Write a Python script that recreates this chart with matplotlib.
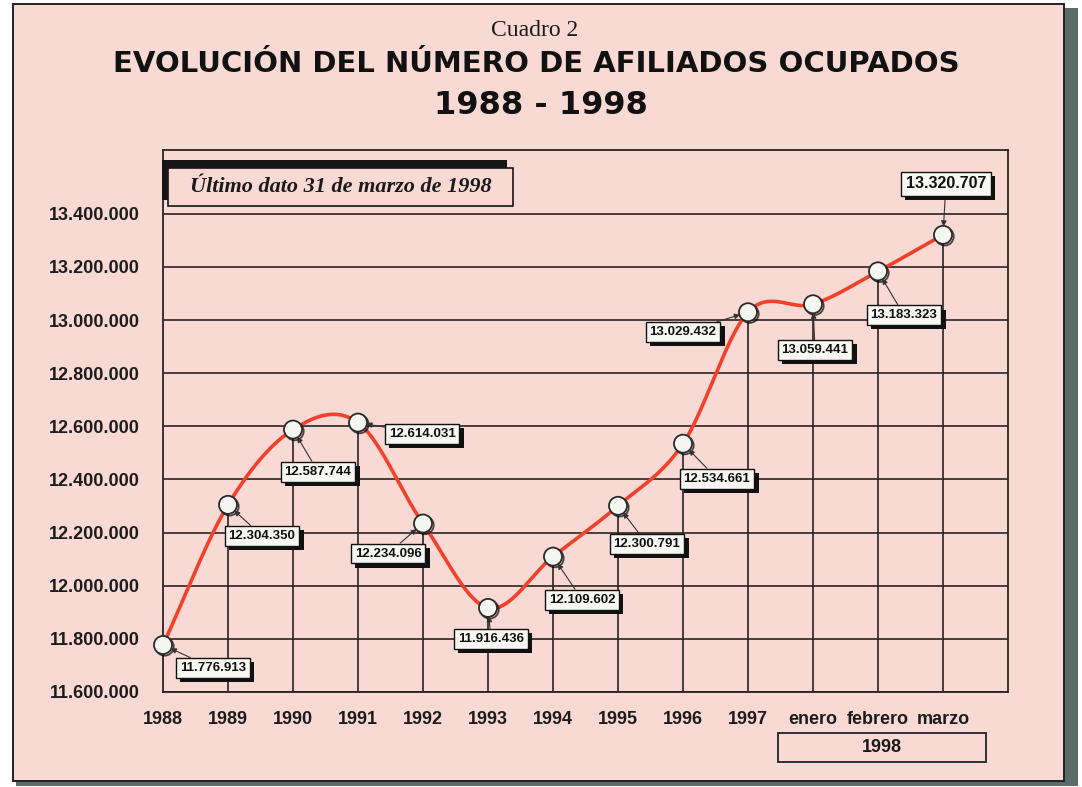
import numpy as np
import matplotlib.pyplot as plt
from matplotlib.patches import Rectangle
import matplotlib.patheffects as pe

periodos = ['1988', '1989', '1990', '1991', '1992', '1993', '1994',
            '1995', '1996', '1997', 'enero', 'febrero', 'marzo']
afiliados = [11776913, 12304350, 12587744, 12614031, 12234096, 11916436,
             12109602, 12300791, 12534661, 13029432, 13059441, 13183323,
             13320707]
ticks_y = list(range(11600000, 13400001, 200000))

# where each value box sits, in pixels from its point
caja_dx = [50, 34, 25, 64, -35, 3, 29, 29, 34, -65, 2, 26, 3]
caja_dy = [-23, -31, -42, -11, -30, -31, -43, -38, -35, -20, -46, -44, 51]

ROSA = '#f9d9d3'
ROJO = '#f2412b'
OSCURO = '#2b2323'
W, H = 1082, 787


def fx(px):
    return px / W


def fy(py):
    return 1 - py / H


def puntos(n):
    return f"{n:,.0f}".replace(',', '.')


def catmull_rom(xs, ys, n=40):
    xs = np.asarray(xs, float)
    ys = np.asarray(ys, float)
    m = np.gradient(ys, xs)
    out_x, out_y = [], []
    for i in range(len(xs) - 1):
        h = xs[i + 1] - xs[i]
        t = np.linspace(0, 1, n, endpoint=(i == len(xs) - 2))
        h00 = 2 * t**3 - 3 * t**2 + 1
        h10 = t**3 - 2 * t**2 + t
        h01 = -2 * t**3 + 3 * t**2
        h11 = t**3 - t**2
        out_x.append(xs[i] + t * h)
        out_y.append(h00 * ys[i] + h10 * h * m[i] + h01 * ys[i + 1] + h11 * h * m[i + 1])
    return np.concatenate(out_x), np.concatenate(out_y)


fig = plt.figure(figsize=(10.82, 7.87), dpi=100)
fig.patch.set_facecolor('white')

# page panel, dark edge on the right and bottom
fig.patches.append(Rectangle((fx(1064), fy(784)), fx(1078) - fx(1064), fy(8) - fy(784),
                             transform=fig.transFigure, fc='#5d6b69', ec='none', zorder=-3))
fig.patches.append(Rectangle((fx(16), fy(786)), fx(1078) - fx(16), fy(779) - fy(786),
                             transform=fig.transFigure, fc='#5d6b69', ec='none', zorder=-3))
fig.patches.append(Rectangle((fx(13), fy(781)), fx(1064) - fx(13), fy(4) - fy(781),
                             transform=fig.transFigure, fc=ROSA, ec='#222222', lw=1.4, zorder=-2))

fig.text(fx(535), fy(31), 'Cuadro 2', family='Liberation Serif', fontsize=17,
         ha='center', va='center', color='#1a1a1a')
fig.text(fx(536), fy(64), 'EVOLUCIÓN DEL NÚMERO DE AFILIADOS OCUPADOS',
         family='DejaVu Sans', weight='bold', fontsize=21,
         ha='center', va='center', color='#111111')
fig.text(fx(541), fy(105), '1988 - 1998', family='DejaVu Sans', weight='bold',
         fontsize=23, ha='center', va='center', color='#111111')

ax = fig.add_axes([fx(163), fy(692), fx(1008) - fx(163), fy(150) - fy(692)])
ax.set_facecolor(ROSA)
x = np.arange(len(periodos))
ax.set_xlim(0, len(periodos))
ax.set_ylim(11600000, 13640000)

ax.set_yticks(ticks_y)
ax.set_yticklabels([puntos(v) for v in ticks_y])
ax.set_xticks(x)
ax.set_xticklabels(periodos)
ax.tick_params(length=0, labelsize=13, colors='#1c1c1c')
ax.tick_params(axis='y', pad=17)
ax.tick_params(axis='x', pad=14)
for lab in ax.get_xticklabels() + ax.get_yticklabels():
    lab.set_fontweight('bold')
    lab.set_family('Liberation Sans')

ax.yaxis.grid(True, color=OSCURO, lw=1.2)
ax.set_axisbelow(True)
for s in ax.spines.values():
    s.set_color(OSCURO)
    s.set_linewidth(1.3)

ax.vlines(x[1:], 11600000, afiliados[1:], color=OSCURO, lw=1.2, zorder=1)

cx, cy = catmull_rom(x, afiliados)
ax.plot(cx, cy, color=ROJO, lw=2.6, zorder=3, solid_capstyle='round')
ax.plot(x, afiliados, 'o', ms=13, mfc='#f4f6f2', mec='#2a2a2a', mew=1.3, zorder=4,
        clip_on=False,
        path_effects=[pe.SimpleLineShadow(offset=(1.2, -1.2), shadow_color='black', alpha=0.7),
                      pe.Normal()])

for i, v in enumerate(afiliados):
    grande = i == len(afiliados) - 1
    t = ax.annotate(puntos(v), (x[i], v), xytext=(caja_dx[i], caja_dy[i]),
                    textcoords='offset pixels', ha='center', va='center',
                    family='Liberation Sans', weight='bold',
                    fontsize=11.5 if grande else 9.5, color='#111111', zorder=6,
                    bbox=dict(boxstyle='square,pad=0.3', fc='#f7f7f3', ec='#111111', lw=1),
                    arrowprops=dict(arrowstyle='-|>', color='#333333', lw=0.8,
                                    mutation_scale=8, shrinkA=0, shrinkB=6))
    t.get_bbox_patch().set_path_effects([
        pe.SimplePatchShadow(offset=(3, -3), shadow_rgbFace='#111111', alpha=1),
        pe.Normal()])

# "Último dato" note with its heavy shadow on the upper left
fig.patches.append(Rectangle((fx(162), fy(200)), fx(507) - fx(162), fy(160) - fy(200),
                             transform=fig.transFigure, fc='#151515', ec='none', zorder=5))
fig.patches.append(Rectangle((fx(168), fy(206)), fx(513) - fx(168), fy(168) - fy(206),
                             transform=fig.transFigure, fc=ROSA, ec='#151515', lw=1.2, zorder=6))
fig.text(fx(341), fy(187), 'Último dato 31 de marzo de 1998', family='Liberation Serif',
         style='italic', weight='bold', fontsize=16, ha='center', va='center',
         color='#1a1a1a', zorder=7)

# bracket box under the 1998 months
fig.patches.append(Rectangle((fx(778), fy(762)), fx(986) - fx(778), fy(733) - fy(762),
                             transform=fig.transFigure, fc=ROSA, ec='#222222', lw=1.3, zorder=5))
fig.text(fx(882), fy(747), '1998', family='Liberation Sans', weight='bold', fontsize=13,
         ha='center', va='center', color='#1a1a1a', zorder=6)

fig.savefig('out.png', dpi=100, facecolor=fig.get_facecolor())
